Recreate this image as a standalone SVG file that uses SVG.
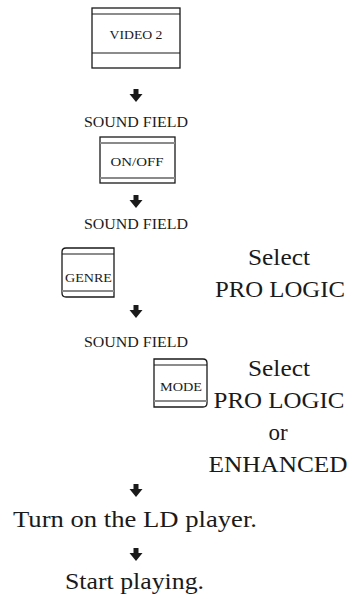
<svg xmlns="http://www.w3.org/2000/svg" xmlns:xlink="http://www.w3.org/1999/xlink" width="356" height="599" viewBox="0 0 356 599">
<style>
  .box{fill:#fff;stroke:#1a1a1a;stroke-width:1.3}
  .ln{stroke:#1a1a1a;stroke-width:1.1;fill:none}
  .gl{stroke:#8a8a8a;stroke-width:1.8;fill:none}
  .t{font-family:"Liberation Serif","Times New Roman",serif;fill:#1a1a1a;text-anchor:middle}
  .sf{font-size:15.5px}
  .bl{font-size:12.5px}
  .sm{font-size:11.5px}
  .big{font-size:23px}
  .arr{fill:#1a1a1a}
</style>
<defs>
  <path id="arrow" class="arr" d="M-2.5,0 h5 v5 h4 l-6.5,8 l-6.5,-8 h4 z"/>
</defs>
<rect width="356" height="599" fill="#fff"/>

<g id="video2">
  <rect class="box" x="92" y="8" width="88" height="60"/>
  <line class="ln" x1="92" y1="14" x2="180" y2="14"/>
  <line class="ln" x1="92" y1="53" x2="180" y2="53"/>
  <text class="t bl" x="136" y="39" textLength="53" lengthAdjust="spacingAndGlyphs">VIDEO 2</text>
</g>

<g id="sf1">
  <text class="t sf" x="136" y="127" textLength="104" lengthAdjust="spacingAndGlyphs">SOUND FIELD</text>
</g>
<g id="onoff">
  <rect class="box" x="100" y="137" width="75" height="46"/>
  <line class="gl" x1="100" y1="143" x2="175" y2="143"/>
  <line class="gl" x1="100" y1="178" x2="175" y2="178"/>
  <text class="t bl" x="137" y="166" textLength="53" lengthAdjust="spacingAndGlyphs">ON/OFF</text>
</g>

<g id="sf2">
  <text class="t sf" x="136" y="229" textLength="104" lengthAdjust="spacingAndGlyphs">SOUND FIELD</text>
</g>
<g id="genre">
  <path class="box" d="M66,248 H114 V297 H66 Q62,297 62,293 V252 Q62,248 66,248 Z"/>
  <line class="ln" x1="62" y1="254" x2="114" y2="254"/>
  <line class="gl" x1="62" y1="291" x2="114" y2="291"/>
  <text class="t sm" x="88.5" y="282" textLength="47" lengthAdjust="spacingAndGlyphs">GENRE</text>
</g>
<g id="select1">
  <text class="t big" x="279" y="265" textLength="62" lengthAdjust="spacingAndGlyphs">Select</text>
  <text class="t big" x="280" y="297" textLength="130" lengthAdjust="spacingAndGlyphs">PRO LOGIC</text>
</g>

<g id="sf3">
  <text class="t sf" x="136" y="347" textLength="104" lengthAdjust="spacingAndGlyphs">SOUND FIELD</text>
</g>
<g id="mode">
  <path class="box" d="M154,359 H203 Q207,359 207,363 V403 Q207,407 203,407 H154 Z"/>
  <line class="ln" x1="154" y1="365" x2="207" y2="365"/>
  <line class="gl" x1="154" y1="401" x2="207" y2="401"/>
  <text class="t sm" x="181" y="391" textLength="42" lengthAdjust="spacingAndGlyphs">MODE</text>
</g>
<g id="select2">
  <text class="t big" x="279" y="376" textLength="62" lengthAdjust="spacingAndGlyphs">Select</text>
  <text class="t big" x="279" y="408" textLength="131" lengthAdjust="spacingAndGlyphs">PRO LOGIC</text>
  <text class="t big" x="278" y="440">or</text>
  <text class="t big" x="278" y="472" textLength="139" lengthAdjust="spacingAndGlyphs">ENHANCED</text>
</g>

<g id="ldplayer">
  <text class="t big" x="135" y="527" textLength="244" lengthAdjust="spacingAndGlyphs">Turn on the LD player.</text>
</g>
<g id="start">
  <text class="t big" x="134.5" y="589" textLength="139" lengthAdjust="spacingAndGlyphs">Start playing.</text>
</g>

<g id="connectors">
  <use xlink:href="#arrow" href="#arrow" x="136" y="89"/>
  <use xlink:href="#arrow" href="#arrow" x="136" y="195"/>
  <use xlink:href="#arrow" href="#arrow" x="136" y="305"/>
  <use xlink:href="#arrow" href="#arrow" x="136" y="484"/>
  <use xlink:href="#arrow" href="#arrow" x="136" y="548"/>
</g>
</svg>
